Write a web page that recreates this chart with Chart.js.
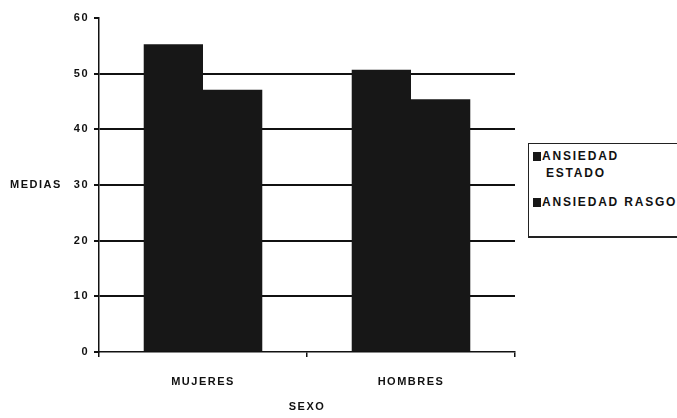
<!DOCTYPE html>
<html lang="es">
<head>
<meta charset="UTF-8">
<title>Medias por sexo</title>
<style>
  body { margin: 0; background: #fff; }
  .wrap { position: relative; width: 677px; height: 418px; }
  #legend {
    position: absolute; left: 528px; top: 143px; width: 170px; height: 95px;
    border: 1.5px solid #222; border-bottom-width: 2px; background: #fff;
    font: bold 12px "Liberation Sans", Arial, sans-serif; letter-spacing: 1.8px; color: #111;
    box-sizing: border-box; padding: 4px 0 0 4px;
  }
  #legend .item { position: relative; padding-left: 9px; line-height: 17px; margin-bottom: 12px; white-space: nowrap; }
  #legend .item span.sw { position: absolute; left: 0; top: 4px; width: 8px; height: 9px; background: #171717; }
  #legend .item .l2 { padding-left: 4px; }
</style>
<script src="https://cdn.jsdelivr.net/npm/chart.js"></script>
</head>
<body>
<div class="wrap">
  <canvas id="chart" width="677" height="418"></canvas>
  <div id="legend"></div>
</div>
<script>
  const categorias = ['MUJERES', 'HOMBRES'];
  const seriesNombres = ['ANSIEDAD ESTADO', 'ANSIEDAD RASGO'];
  const ansiedadEstado = [55.3, 50.7];
  const ansiedadRasgo = [47.1, 45.4];
  const yTicks = [0, 10, 20, 30, 40, 50, 60];
  const ejeY = 'MEDIAS';
  const ejeX = 'SEXO';

  Chart.defaults.font.family = '"Liberation Sans", Arial, sans-serif';
  Chart.defaults.font.weight = 'bold';
  Chart.defaults.font.size = 11;
  Chart.defaults.color = '#111';

  // titulo horizontal del eje Y
  const yTitlePlugin = {
    id: 'yTitle',
    beforeDraw(chart) { chart.ctx.letterSpacing = '1.5px'; },
    afterDraw(chart) {
      const ctx = chart.ctx;
      const a = chart.chartArea;
      ctx.save();
      ctx.font = 'bold 11px "Liberation Sans", Arial, sans-serif';
      ctx.fillStyle = '#111';
      ctx.textAlign = 'left';
      ctx.textBaseline = 'middle';
      ctx.fillText(ejeY, 10, (a.top + a.bottom) / 2);
      ctx.restore();
    }
  };

  new Chart(document.getElementById('chart'), {
    type: 'bar',
    data: {
      labels: categorias,
      datasets: [
        { label: seriesNombres[0], data: ansiedadEstado, backgroundColor: '#171717' },
        { label: seriesNombres[1], data: ansiedadRasgo, backgroundColor: '#171717' }
      ]
    },
    options: {
      responsive: false,
      animation: false,
      layout: { padding: { top: 18, right: 162, left: 0, bottom: 0 } },
      datasets: { bar: { categoryPercentage: 0.57, barPercentage: 1.0 } },
      plugins: { legend: { display: false }, tooltip: { enabled: false } },
      scales: {
        x: {
          afterFit: s => { s.height = 66; },
          grid: { display: true, drawOnChartArea: false, offset: true, tickLength: 5, tickColor: '#111', lineWidth: 1.5 },
          border: { color: '#111', width: 1.5 },
          ticks: { padding: 18, color: '#111' },
          title: { display: true, text: ejeX, color: '#111', font: { weight: 'bold', size: 11 }, padding: { top: 0, bottom: 4 } }
        },
        y: {
          min: 0, max: 60,
          afterFit: s => { s.width = 99; },
          afterBuildTicks: s => { s.ticks = yTicks.map(v => ({ value: v })); },
          grid: {
            color: c => (c.tick && (c.tick.value === 0 || c.tick.value === 60)) ? 'rgba(0,0,0,0)' : '#111',
            lineWidth: 2,
            tickLength: 5,
            tickColor: '#111'
          },
          border: { color: '#111', width: 1.5 },
          ticks: { stepSize: 10, padding: 5, color: '#111' }
        }
      }
    },
    plugins: [yTitlePlugin]
  });

  // leyenda
  const legendLines = [['ANSIEDAD', 'ESTADO'], ['ANSIEDAD RASGO']];
  document.getElementById('legend').innerHTML = seriesNombres.map((n, i) =>
    '<div class="item" title="' + n + '"><span class="sw"></span>' +
    legendLines[i].map((t, j) => j ? '<div class="l2">' + t + '</div>' : t).join('') + '</div>'
  ).join('');
</script>
</body>
</html>
